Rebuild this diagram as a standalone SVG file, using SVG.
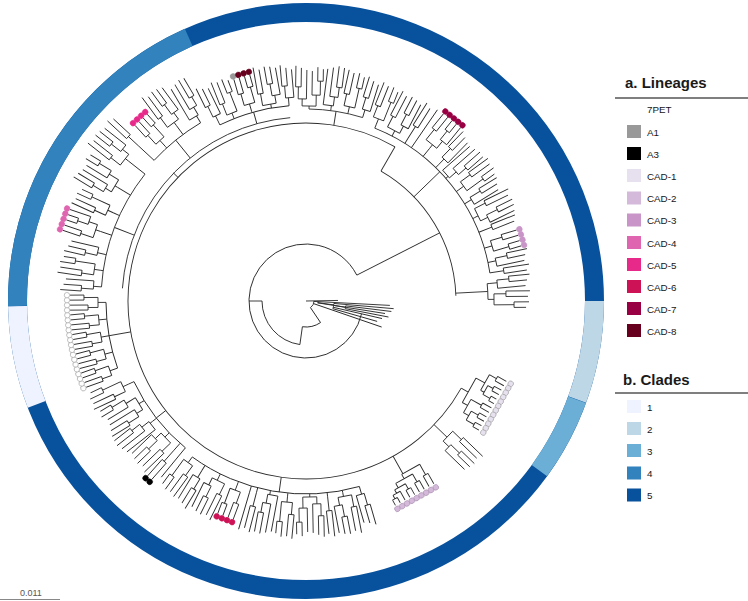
<svg xmlns="http://www.w3.org/2000/svg" xmlns:xlink="http://www.w3.org/1999/xlink" width="748" height="601" viewBox="0 0 748 601">
<style>
.t{fill:none;stroke:#2b2b2b;stroke-width:0.9}
.ring{fill:none;stroke-width:19}
.lbl{font-family:"Liberation Sans",Arial,sans-serif;font-size:9.8px;fill:#151515}
.hd{font-family:"Liberation Sans",Arial,sans-serif;font-size:15px;font-weight:bold;fill:#1a1a1a}
.dot{stroke-width:0.6}
.p7{fill:#fff;stroke:#999}
.a1{fill:#999;stroke:#999}
.a3{fill:#000;stroke:#000}
.c1{fill:#e7e1ef;stroke:#9a9a9a}
.c2{fill:#d4b9da;stroke:#a88fae}
.c3{fill:#c994c7;stroke:#c994c7}
.c4{fill:#df65b0;stroke:#df65b0}
.c5{fill:#e7298a;stroke:#e7298a}
.c6{fill:#ce1256;stroke:#ce1256}
.c7{fill:#980043;stroke:#980043}
.c8{fill:#67001f;stroke:#67001f}
</style>
<defs>
<path id="t2" d="M0 0H14M14-2.75V2.75M14-2.75H40M14 2.75H37"/>
<path id="t3" d="M0 0H8M8-2.75V5.5M8 5.5H36M8-2.75H20M20-5.5V0M20-5.5H41M20 0H38"/>
<path id="t4" d="M0 0H6M6-5.5V5.5M6-5.5H18M18-8.25V-2.75M18-8.25H42M18-2.75H40M6 5.5H26M26 2.75V8.25M26 2.75H41M26 8.25H38"/>
<path id="t5" d="M0 0H4M4-8.25V5.5M4-8.25H16M16-11V-5.5M16-11H43M16-5.5H40M4 5.5H12M12 2.75V11M12 11H39M12 2.75H24M24 0V5.5M24 0H42M24 5.5H41"/>
<path id="t6" d="M0 0H3M3-7V7M3-7H10M10-11V-2.75M10-2.75H39M10-11H22M22-13.75V-8.25M22-13.75H43M22-8.25H41M3 7H14M14 2.75V11M14 2.75H38M14 11H28M28 8.25V13.75M28 8.25H42M28 13.75H40"/>
<path id="k4" d="M0 0H3M3-8.25V2M3-8.25H39M3 2H12M12-2.75V5.5M12-2.75H41M12 5.5H22M22 2.75V8.25M22 2.75H43M22 8.25H42"/>
<path id="l1" d="M0 0H38"/>
<path id="d2" d="M0 0H14M14-2.75V2.75M14-2.75H36M14 2.75H36"/>
<path id="d4" d="M0 0H8M8-5.5V5.5M8-5.5H20M20-8.25V-2.75M8 5.5H24M24 2.75V8.25M20-8.25H36M20-2.75H36M24 2.75H36M24 8.25H36"/>
<path id="d5" d="M0 0H5M5-8.25V5.5M5-8.25H18M18-11V-5.5M18-11H36M18-5.5H36M5 5.5H14M14 2.75V11M14 11H36M14 2.75H25M25 0V5.5M25 0H36M25 5.5H36"/>
<path id="p4" d="M0 0H8M8-5V5M8-5H18M18-7.5V-2.5M18-7.5H36M18-2.5H36M8 5H22M22 2.5V7.5M22 2.5H36M22 7.5H36"/>
</defs>

<rect width="748" height="601" fill="#fff"/>

<g id="clade-ring" transform="translate(306 301)">
<circle class="ring" r="288.5" stroke="#08519c"/>
<circle class="ring" r="288.5" stroke="#bdd7e7" pathLength="360" stroke-dasharray="20 999" transform="rotate(0)"/>
<circle class="ring" r="288.5" stroke="#6baed6" pathLength="360" stroke-dasharray="16 999" transform="rotate(20)"/>
<circle class="ring" r="288.5" stroke="#eff3ff" pathLength="360" stroke-dasharray="20 999" transform="rotate(159)"/>
<circle class="ring" r="288.5" stroke="#3182bd" pathLength="360" stroke-dasharray="67 999" transform="rotate(179)"/>
</g>

<g id="tree" class="t" transform="translate(306 301)">
<g id="backbone">
<circle r="8" pathLength="360" stroke-dasharray="56 999"/>
<path d="M8 0H26" transform="rotate(56)"/>
<circle r="26" pathLength="360" stroke-dasharray="42 999" transform="rotate(56)"/>
<path d="M26 0H44" transform="rotate(98)"/>
<circle r="44" pathLength="360" stroke-dasharray="82 999" transform="rotate(98)"/>
<path d="M44 0H57" transform="rotate(180)"/>
<circle r="57" pathLength="360" stroke-dasharray="320 999" transform="rotate(13)"/>
<path d="M57 0H150" transform="rotate(333)"/>
<circle r="150" pathLength="360" stroke-dasharray="58 999" transform="rotate(300)"/>
<path d="M150 0H178" transform="rotate(300)"/>
<circle r="178" pathLength="360" stroke-dasharray="270.7 999" transform="rotate(29.3)"/>
<path d="M178 0H193" transform="rotate(98)"/>
<circle r="193" pathLength="360" stroke-dasharray="52.15 999" transform="rotate(73.95)"/>
<path d="M178 0H190" transform="rotate(142)"/>
<circle r="190" pathLength="360" stroke-dasharray="25.5 999" transform="rotate(129.4)"/>
<path d="M178 0H200" transform="rotate(170)"/>
<circle r="200" pathLength="360" stroke-dasharray="19.2 999" transform="rotate(160.4)"/>
<path d="M178 0H184" transform="rotate(224)"/>
<circle r="184" pathLength="360" stroke-dasharray="81.1 999" transform="rotate(183.95)"/>
<path d="M184 0H205" transform="rotate(201)"/>
<circle r="205" pathLength="360" stroke-dasharray="34.3 999" transform="rotate(183.95)"/>
<path d="M184 0H207" transform="rotate(231)"/>
<circle r="207" pathLength="360" stroke-dasharray="16.6 999" transform="rotate(222.8)"/>
<path d="M184 0H196" transform="rotate(254.5)"/>
<circle r="196" pathLength="360" stroke-dasharray="21.1 999" transform="rotate(243.95)"/>
<path d="M178 0H192" transform="rotate(279)"/>
<circle r="192" pathLength="360" stroke-dasharray="16.25 999" transform="rotate(270.9)"/>
<path d="M150 0H186" transform="rotate(316)"/>
<circle r="186" pathLength="360" stroke-dasharray="59.6 999" transform="rotate(291.7)"/>
<path d="M150 0H182" transform="rotate(357)"/>
<circle r="182" pathLength="360" stroke-dasharray="4.95 999" transform="rotate(354.55)"/>
</g>
<g id="fan">
<path d="M0 0H32" transform="rotate(-1)"/>
<path d="M8 0H84" transform="rotate(3)"/>
<path d="M28 0H88" transform="rotate(5)"/>
<path d="M40 0H86" transform="rotate(7)"/>
<path d="M12 0H80" transform="rotate(9)"/>
<path d="M40 0H84" transform="rotate(11)"/>
<path d="M28 0H78" transform="rotate(13)"/>
<path d="M28 0H74" transform="rotate(16)"/>
<path d="M8 0H80" transform="rotate(19)"/>
<circle r="28" pathLength="360" stroke-dasharray="11 999" transform="rotate(5)"/>
<circle r="40" pathLength="360" stroke-dasharray="4 999" transform="rotate(7)"/>
<circle r="12" pathLength="360" stroke-dasharray="8 999" transform="rotate(3)"/>
<path d="M12 0H28" transform="rotate(8)"/>
<path d="M28 0H40" transform="rotate(9)"/>
</g>
<g id="leaves">
<g transform="rotate(73.95)"><use href="#t3" x="193"/></g>
<g transform="rotate(79.15)"><path d="M193 0H195"/><use href="#t5" x="195"/></g>
<g transform="rotate(83.7)"><path d="M193 0H197"/><use href="#t2" x="197"/></g>
<g transform="rotate(88.9)"><use href="#t6" x="193"/></g>
<g transform="rotate(95.4)"><path d="M193 0H196"/><use href="#t4" x="196"/></g>
<g transform="rotate(100.6)"><path d="M193 0H194"/><use href="#k4" x="194"/></g>
<g transform="rotate(104.5)"><path d="M193 0H198"/><use href="#t2" x="198"/></g>
<g transform="rotate(106.45)"><path d="M193 0H200"/><use href="#l1" x="200"/></g>
<g transform="rotate(110.5)"><path d="M193 0H194"/><use href="#d4" x="194"/>
<circle class="dot c6" cx="233" cy="-8.25" r="2.8"/><circle class="dot c6" cx="233" cy="-2.75" r="2.8"/><circle class="dot c6" cx="233" cy="2.75" r="2.8"/><circle class="dot c6" cx="233" cy="8.25" r="2.8"/></g>
<g transform="rotate(116.35)"><path d="M193 0H196"/><use href="#t5" x="196"/></g>
<g transform="rotate(121.55)"><path d="M193 0H199"/><use href="#t3" x="199"/></g>
<g transform="rotate(126.1)"><path d="M193 0H194"/><use href="#t4" x="194"/></g>

<g transform="rotate(129.4)"><use href="#l1" x="190"/></g>
<g transform="rotate(131.5)"><path d="M190 0H200"/><use href="#d2" x="200"/>
<circle class="dot a3" cx="239" cy="-2.75" r="2.8"/><circle class="dot a3" cx="239" cy="2.75" r="2.8"/></g>
<g transform="rotate(136.05)"><path d="M190 0H192"/><use href="#t5" x="192"/></g>
<g transform="rotate(141.9)"><path d="M190 0H195"/><use href="#k4" x="195"/></g>
<g transform="rotate(148.4)"><path d="M190 0H193"/><use href="#t6" x="193"/></g>
<g transform="rotate(154.9)"><path d="M190 0H196"/><use href="#t4" x="196"/></g>

<g transform="rotate(160.4)"><use href="#p4" x="200"/><circle class="dot p7" cx="239" cy="-7.5" r="2.7"/><circle class="dot p7" cx="239" cy="-2.5" r="2.7"/><circle class="dot p7" cx="239" cy="2.5" r="2.7"/><circle class="dot p7" cx="239" cy="7.5" r="2.7"/></g>
<g transform="rotate(165.2)"><use href="#p4" x="200"/><circle class="dot p7" cx="239" cy="-7.5" r="2.7"/><circle class="dot p7" cx="239" cy="-2.5" r="2.7"/><circle class="dot p7" cx="239" cy="2.5" r="2.7"/><circle class="dot p7" cx="239" cy="7.5" r="2.7"/></g>
<g transform="rotate(170)"><use href="#p4" x="200"/><circle class="dot p7" cx="239" cy="-7.5" r="2.7"/><circle class="dot p7" cx="239" cy="-2.5" r="2.7"/><circle class="dot p7" cx="239" cy="2.5" r="2.7"/><circle class="dot p7" cx="239" cy="7.5" r="2.7"/></g>
<g transform="rotate(174.8)"><use href="#p4" x="200"/><circle class="dot p7" cx="239" cy="-7.5" r="2.7"/><circle class="dot p7" cx="239" cy="-2.5" r="2.7"/><circle class="dot p7" cx="239" cy="2.5" r="2.7"/><circle class="dot p7" cx="239" cy="7.5" r="2.7"/></g>
<g transform="rotate(179.6)"><use href="#p4" x="200"/><circle class="dot p7" cx="239" cy="-7.5" r="2.7"/><circle class="dot p7" cx="239" cy="-2.5" r="2.7"/><circle class="dot p7" cx="239" cy="2.5" r="2.7"/><circle class="dot p7" cx="239" cy="7.5" r="2.7"/></g>

<g transform="rotate(183.95)"><use href="#t3" x="205"/></g>
<g transform="rotate(188.5)"><path d="M205 0H208"/><use href="#t4" x="208"/></g>
<g transform="rotate(193.05)"><path d="M205 0H206"/><use href="#t3" x="206"/></g>
<g transform="rotate(198.7)"><path d="M205 0H217"/><use href="#d5" x="217"/>
<circle class="dot c4" cx="256" cy="-11" r="2.8"/><circle class="dot c4" cx="256" cy="-5.5" r="2.8"/><circle class="dot c4" cx="256" cy="0" r="2.8"/><circle class="dot c4" cx="256" cy="5.5" r="2.8"/><circle class="dot c4" cx="256" cy="11" r="2.8"/></g>
<g transform="rotate(204.6)"><path d="M205 0H212"/><use href="#t4" x="212"/></g>
<g transform="rotate(211.1)"><path d="M205 0H220"/><use href="#t6" x="220"/></g>
<g transform="rotate(218.25)"><path d="M205 0H226"/><use href="#t5" x="226"/></g>
<g transform="rotate(222.8)"><path d="M207 0H228"/><use href="#t2" x="228"/></g>
<g transform="rotate(227.7)"><path d="M207 0H209"/><use href="#d4" x="209"/>
<circle class="dot c5" cx="248" cy="-8.25" r="2.8"/><circle class="dot c5" cx="248" cy="-2.75" r="2.8"/><circle class="dot c5" cx="248" cy="2.75" r="2.8"/><circle class="dot c5" cx="248" cy="8.25" r="2.8"/></g>
<g transform="rotate(233.55)"><path d="M207 0H218"/><use href="#t5" x="218"/></g>
<g transform="rotate(239.4)"><path d="M207 0H212"/><use href="#k4" x="212"/></g>
<g transform="rotate(243.95)"><path d="M196 0H198"/><use href="#t3" x="198"/></g>
<g transform="rotate(248.5)"><use href="#t4" x="196"/></g>
<g transform="rotate(254)"><path d="M196 0H197"/><use href="#d4" x="197"/>
<circle class="dot a1" cx="236" cy="-8.25" r="2.8"/><circle class="dot c8" cx="236" cy="-2.75" r="2.8"/><circle class="dot c8" cx="236" cy="2.75" r="2.8"/><circle class="dot c8" cx="236" cy="8.25" r="2.8"/></g>
<g transform="rotate(259.85)"><use href="#t5" x="196"/></g>
<g transform="rotate(265.05)"><use href="#t3" x="196"/></g>

<g transform="rotate(270.9)"><use href="#t6" x="192"/></g>
<g transform="rotate(277.4)"><path d="M192 0H194"/><use href="#k4" x="194"/></g>
<g transform="rotate(282.6)"><path d="M192 0H193"/><use href="#t4" x="193"/></g>
<g transform="rotate(287.15)"><use href="#t3" x="192"/></g>

<g transform="rotate(291.7)"><path d="M186 0H190"/><use href="#t4" x="190"/></g>
<g transform="rotate(297.55)"><path d="M186 0H188"/><use href="#t5" x="188"/></g>
<g transform="rotate(302.1)"><path d="M186 0H192"/><use href="#t2" x="192"/></g>
<g transform="rotate(304.5)"><path d="M186 0H194"/><use href="#l1" x="194"/></g>
<g transform="rotate(309)"><path d="M186 0H196"/><use href="#d5" x="196"/>
<circle class="dot c7" cx="235" cy="-11" r="2.8"/><circle class="dot c7" cx="235" cy="-5.5" r="2.8"/><circle class="dot c7" cx="235" cy="0" r="2.8"/><circle class="dot c7" cx="235" cy="5.5" r="2.8"/><circle class="dot c7" cx="235" cy="11" r="2.8"/></g>
<g transform="rotate(314.2)"><path d="M186 0H190"/><use href="#t3" x="190"/></g>
<g transform="rotate(318.75)"><use href="#k4" x="186"/></g>
<g transform="rotate(323.95)"><path d="M186 0H189"/><use href="#t4" x="189"/></g>
<g transform="rotate(328.5)"><use href="#t3" x="186"/></g>
<g transform="rotate(333.7)"><path d="M186 0H188"/><use href="#t5" x="188"/></g>
<g transform="rotate(338.3)"><use href="#t2" x="186"/></g>
<g transform="rotate(343.5)"><use href="#d4" x="186"/>
<circle class="dot c3" cx="225" cy="-8.25" r="2.8"/><circle class="dot c3" cx="225" cy="-2.75" r="2.8"/><circle class="dot c3" cx="225" cy="2.75" r="2.8"/><circle class="dot c3" cx="225" cy="8.25" r="2.8"/></g>
<g transform="rotate(348.05)"><use href="#t3" x="186"/></g>
<g transform="rotate(351.3)"><use href="#t2" x="186"/></g>

<g transform="rotate(354.55)"><path d="M182 0H184"/><use href="#t3" x="184"/></g>
<g transform="rotate(359.5)"><use href="#t4" x="182"/></g>

<g transform="rotate(29.3)">
<path d="M178 0H186M186-16V12M186-16H196M196-25.45V-7.6M196-25.45H204M204-28V-22.9M204-28H214M204-22.9H214M196-7.6H200M200-15.25V-5.05M200-15.25H206M206-17.8V-12.7M206-17.8H214M206-12.7H214M200-5.05H208M208-7.6V-2.5M208-7.6H214M208-2.5H214M186 12H192M192 5.05V20.35M192 5.05H204M204 2.5V7.6M204 2.5H214M204 7.6H214M192 20.35H198M198 15.25V25.45M198 15.25H206M206 12.7V17.8M206 12.7H214M206 17.8H214M198 25.45H207M207 22.9V28M207 22.9H214M207 28H214"/>
<circle class="dot c1" cx="219" cy="-28" r="2.8"/><circle class="dot c1" cx="219" cy="-22.9" r="2.8"/><circle class="dot c1" cx="219" cy="-17.8" r="2.8"/><circle class="dot c1" cx="219" cy="-12.7" r="2.8"/><circle class="dot c1" cx="219" cy="-7.6" r="2.8"/><circle class="dot c1" cx="219" cy="-2.5" r="2.8"/><circle class="dot c1" cx="219" cy="2.5" r="2.8"/><circle class="dot c1" cx="219" cy="7.6" r="2.8"/><circle class="dot c1" cx="219" cy="12.7" r="2.8"/><circle class="dot c1" cx="219" cy="17.8" r="2.8"/><circle class="dot c1" cx="219" cy="22.9" r="2.8"/><circle class="dot c1" cx="219" cy="28" r="2.8"/>
</g>
<g transform="rotate(44)"><path d="M178 0H192"/><use href="#t5" x="192"/></g>
<g transform="rotate(60.7)">
<path d="M178 0H198M198-19.25V1.4M198-19.25H210M210-22V-16.5M210-22H222M210-16.5H222M198 1.4H203M203-8.25V11M203-8.25H212M212-11V-5.5M212-11H222M212-5.5H222M203 11H208M208 2.75V15.1M208 2.75H214M214 0V5.5M214 0H222M214 5.5H222M208 15.1H212M212 11V19.25M212 11H222M212 19.25H216M216 16.5V22M216 16.5H222M216 22H222"/>
<circle class="dot c2" cx="226" cy="-22" r="2.8"/><circle class="dot c2" cx="226" cy="-16.5" r="2.8"/><circle class="dot c2" cx="226" cy="-11" r="2.8"/><circle class="dot c2" cx="226" cy="-5.5" r="2.8"/><circle class="dot c2" cx="226" cy="0" r="2.8"/><circle class="dot c2" cx="226" cy="5.5" r="2.8"/><circle class="dot c2" cx="226" cy="11" r="2.8"/><circle class="dot c2" cx="226" cy="16.5" r="2.8"/><circle class="dot c2" cx="226" cy="22" r="2.8"/>
</g>
</g>
</g>

<g id="legend-lineages">
<text class="hd" x="625" y="88">a. Lineages</text>
<line x1="615" y1="98" x2="748" y2="98" stroke="#555" stroke-width="1.5"/>
<text class="lbl" x="647" y="113">7PET</text>
<rect x="627" y="125" width="14" height="13" fill="#999"/><text class="lbl" x="647" y="135.5">A1</text>
<rect x="627" y="147" width="14" height="13" fill="#000"/><text class="lbl" x="647" y="157.5">A3</text>
<rect x="627" y="169" width="14" height="13" fill="#e7e1ef"/><text class="lbl" x="647" y="179.5">CAD-1</text>
<rect x="627" y="191.5" width="14" height="13" fill="#d4b9da"/><text class="lbl" x="647" y="202">CAD-2</text>
<rect x="627" y="213.5" width="14" height="13" fill="#c994c7"/><text class="lbl" x="647" y="224">CAD-3</text>
<rect x="627" y="236" width="14" height="13" fill="#df65b0"/><text class="lbl" x="647" y="246.5">CAD-4</text>
<rect x="627" y="258" width="14" height="13" fill="#e7298a"/><text class="lbl" x="647" y="268.5">CAD-5</text>
<rect x="627" y="280" width="14" height="13" fill="#ce1256"/><text class="lbl" x="647" y="290.5">CAD-6</text>
<rect x="627" y="302" width="14" height="13" fill="#980043"/><text class="lbl" x="647" y="312.5">CAD-7</text>
<rect x="627" y="324" width="14" height="13" fill="#67001f"/><text class="lbl" x="647" y="334.5">CAD-8</text>
</g>

<g id="legend-clades">
<text class="hd" x="623" y="385">b. Clades</text>
<line x1="615" y1="393" x2="748" y2="393" stroke="#555" stroke-width="1.5"/>
<rect x="627" y="400" width="14" height="13" fill="#eff3ff"/><text class="lbl" x="647" y="410.5">1</text>
<rect x="627" y="422" width="14" height="13" fill="#bdd7e7"/><text class="lbl" x="647" y="432.5">2</text>
<rect x="627" y="444" width="14" height="13" fill="#6baed6"/><text class="lbl" x="647" y="454.5">3</text>
<rect x="627" y="466.5" width="14" height="13" fill="#3182bd"/><text class="lbl" x="647" y="477">4</text>
<rect x="627" y="488.5" width="14" height="13" fill="#08519c"/><text class="lbl" x="647" y="499">5</text>
</g>

<g id="scale-bar">
<line x1="0" y1="599.5" x2="60" y2="599.5" stroke="#888" stroke-width="1"/>
<text x="20" y="596" font-family="Liberation Sans, Arial, sans-serif" font-size="9" fill="#555">0.011</text>
</g>
</svg>
